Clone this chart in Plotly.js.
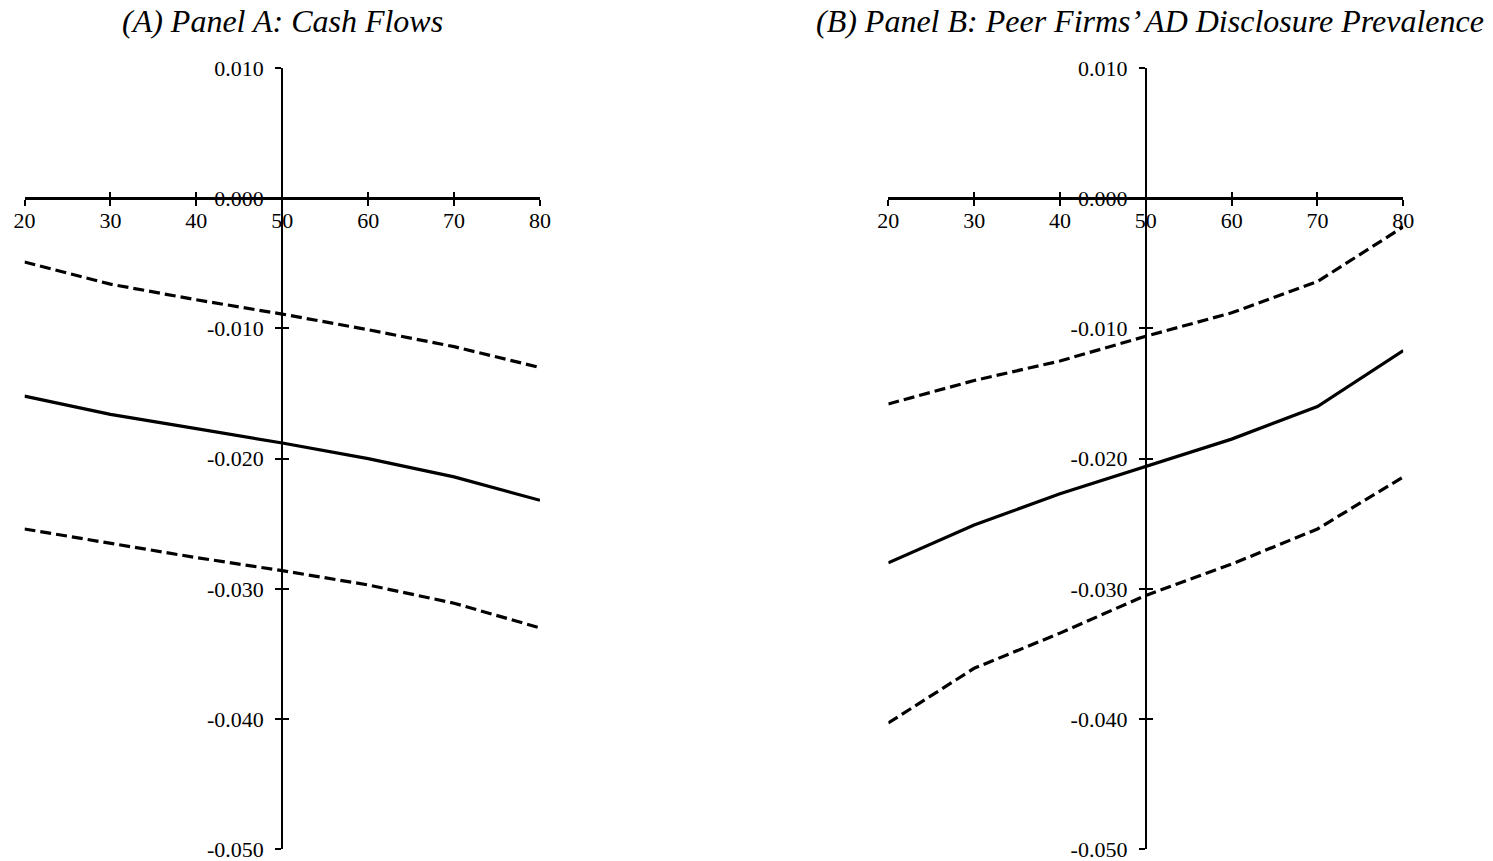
<!DOCTYPE html>
<html>
<head>
<meta charset="utf-8">
<script src="https://cdn.plot.ly/plotly-3.0.1.min.js"></script>
<style>
  html, body { margin: 0; padding: 0; background: #fff; }
  #chart { width: 1493px; height: 861px; }
</style>
</head>
<body>
<div id="chart"></div>
<script>
// ---- data ----
const xVals = [20, 30, 40, 50, 60, 70, 80];

const panelA_est   = [-0.0152, -0.0166, -0.0177, -0.0188, -0.0200, -0.0214, -0.0232];
const panelA_upper = [-0.0049, -0.0066, -0.0078, -0.0089, -0.0101, -0.0114, -0.0130];
const panelA_lower = [-0.0254, -0.0265, -0.0276, -0.0286, -0.0297, -0.0311, -0.0330];

const panelB_est   = [-0.0280, -0.0251, -0.0227, -0.0206, -0.0185, -0.0160, -0.0117];
const panelB_upper = [-0.0158, -0.0140, -0.0125, -0.0106, -0.0088, -0.0064, -0.0022];
const panelB_lower = [-0.0403, -0.0361, -0.0334, -0.0305, -0.0281, -0.0254, -0.0214];

const xTickVals = [20, 30, 40, 50, 60, 70, 80];
const yTickVals = [0.010, 0.000, -0.010, -0.020, -0.030, -0.040, -0.050];
const yTickText = ["0.010", "0.000", "-0.010", "-0.020", "-0.030", "-0.040", "-0.050"];

const titleA = "(A) Panel A: Cash Flows";
const titleB = "(B) Panel B: Peer Firms\u2019 AD Disclosure Prevalence";

// ---- layout helpers ----
const W = 1493, H = 861;
const xRange = [20, 80];
const yRange = [-0.0500001, 0.0100001];
const xCross = 50;   // y axis crosses x axis here
const yCross = 0;    // x axis crosses y axis here
const domA = [24.5 / W, 540 / W];
const domB = [888.3 / W, 1403.3 / W];
const domY = [1 - 849.3 / H, 1 - 68 / H];

function frac(dom, range, v) {
  return dom[0] + (v - range[0]) / (range[1] - range[0]) * (dom[1] - dom[0]);
}
const xAxisPos = frac(domY, yRange, yCross);
const yAxisPosA = frac(domA, xRange, xCross);
const yAxisPosB = frac(domB, xRange, xCross);

const FONT = "Liberation Serif, Times New Roman, serif";
const tickFont = { family: FONT, size: 22, color: "#000" };
const dashStyle = "11px,5px";

function line(x, y, xa, ya, dashed) {
  return {
    type: "scatter", mode: "lines", x: x, y: y, xaxis: xa, yaxis: ya,
    line: { color: "#000", width: 3.2, dash: dashed ? dashStyle : "solid" },
    hoverinfo: "skip", showlegend: false
  };
}

const traces = [
  line(xVals, panelA_upper, "x", "y", true),
  line(xVals, panelA_est,   "x", "y", false),
  line(xVals, panelA_lower, "x", "y", true),
  line(xVals, panelB_upper, "x2", "y2", true),
  line(xVals, panelB_est,   "x2", "y2", false),
  line(xVals, panelB_lower, "x2", "y2", true),
  { type: "scatter", x: [], y: [], xaxis: "x3", yaxis: "y3", showlegend: false, hoverinfo: "skip" },
  { type: "scatter", x: [], y: [], xaxis: "x4", yaxis: "y4", showlegend: false, hoverinfo: "skip" }
];

function xAxis(dom, ticks, labels) {
  return {
    domain: dom, range: xRange, anchor: "free", position: xAxisPos,
    tickmode: "array", tickvals: xTickVals,
    ticks: ticks, ticklen: 6, tickwidth: 2, tickcolor: "#000",
    showticklabels: labels, tickfont: tickFont, ticklabelstandoff: -5,
    ticklabeloverflow: "allow",
    showline: labels, linecolor: "#000", linewidth: 3,
    showgrid: false, zeroline: false, fixedrange: true
  };
}
function yAxis(pos, ticks, labels) {
  return {
    domain: domY, range: yRange, anchor: "free", position: pos,
    tickmode: "array", tickvals: yTickVals, ticktext: yTickText,
    ticks: ticks, ticklen: 6, tickwidth: 2, tickcolor: "#000",
    showticklabels: labels, tickfont: tickFont, ticklabelstandoff: 7,
    ticklabeloverflow: "allow",
    showline: labels, linecolor: "#000", linewidth: 2,
    showgrid: false, zeroline: false, fixedrange: true
  };
}

const xa3 = xAxis(domA, "inside", false); xa3.overlaying = "x";
const xa4 = xAxis(domB, "inside", false); xa4.overlaying = "x2";
const ya3 = yAxis(yAxisPosA, "inside", false); ya3.overlaying = "y";
const ya4 = yAxis(yAxisPosB, "inside", false); ya4.overlaying = "y2";

const layout = {
  width: W, height: H,
  margin: { l: 0, r: 0, t: 0, b: 0 },
  paper_bgcolor: "#fff", plot_bgcolor: "rgba(0,0,0,0)",
  showlegend: false,
  xaxis: xAxis(domA, "outside", true),
  yaxis: yAxis(yAxisPosA, "outside", true),
  xaxis2: xAxis(domB, "outside", true),
  yaxis2: yAxis(yAxisPosB, "outside", true),
  xaxis3: xa3, yaxis3: ya3, xaxis4: xa4, yaxis4: ya4,
  annotations: [
    { text: "<i>" + titleA + "</i>", xref: "paper", yref: "paper",
      x: yAxisPosA, y: 1 - 21 / H, xanchor: "center", yanchor: "middle",
      showarrow: false, font: { family: FONT, size: 32, color: "#000" } },
    { text: "<i>" + titleB + "</i>", xref: "paper", yref: "paper",
      x: 1150 / W, y: 1 - 21 / H, xanchor: "center", yanchor: "middle",
      showarrow: false, font: { family: FONT, size: 32, color: "#000" } }
  ]
};

Plotly.newPlot("chart", traces, layout, { displayModeBar: false, staticPlot: true });
</script>
</body>
</html>
